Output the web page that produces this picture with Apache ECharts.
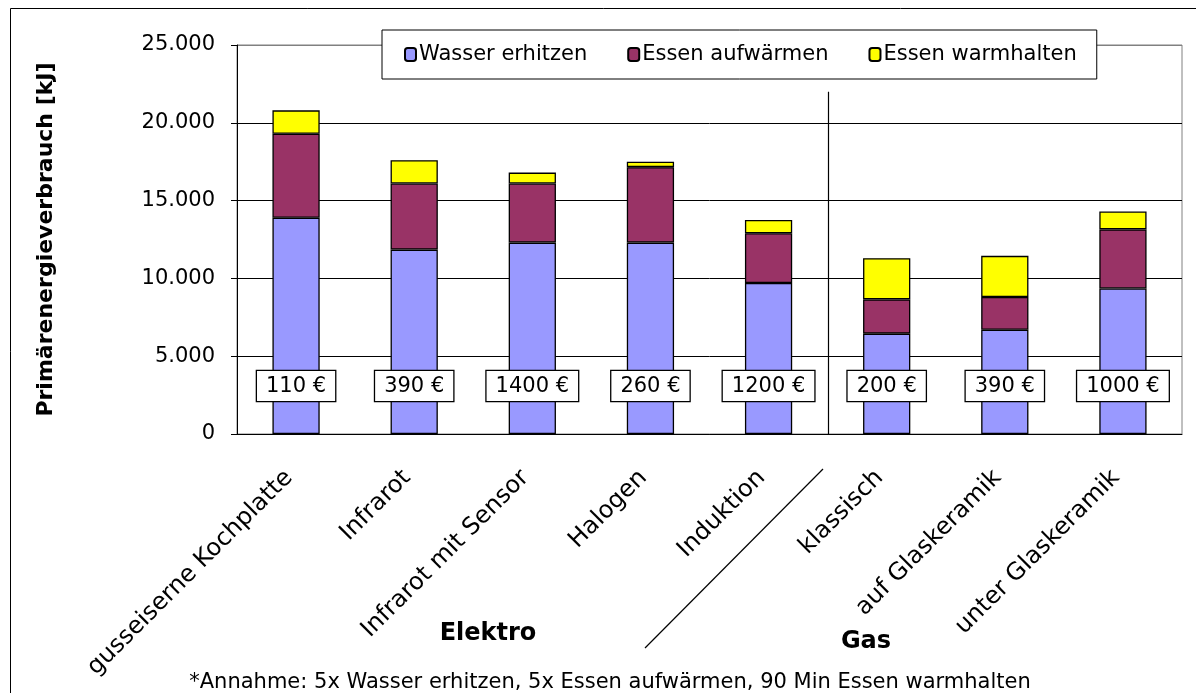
<!DOCTYPE html>
<html>
<head>
<meta charset="utf-8">
<script src="https://cdn.jsdelivr.net/npm/echarts@6/dist/echarts.min.js"></script>
<style>
html,body{margin:0;padding:0;background:#fff;}
#chart{width:1196px;height:693px;}
</style>
</head>
<body>
<div id="chart"></div>
<script>
const categories = ['gusseiserne Kochplatte', 'Infrarot', 'Infrarot mit Sensor', 'Halogen', 'Induktion', 'klassisch', 'auf Glaskeramik', 'unter Glaskeramik'];
const wasserErhitzen = [13900, 11850, 12300, 12300, 9700, 6450, 6700, 9350];
const essenAufwaermen = [5400, 4250, 3800, 4850, 3200, 2200, 2100, 3800];
const essenWarmhalten = [1500, 1500, 700, 350, 850, 2650, 2650, 1150];
const prices = ['110 €', '390 €', '1400 €', '260 €', '1200 €', '200 €', '390 €', '1000 €'];
const seriesNames = ['Wasser erhitzen', 'Essen aufwärmen', 'Essen warmhalten'];
const yMin = 0, yMax = 25000, yInterval = 5000;
const yAxisTitle = 'Primärenergieverbrauch [kJ]';
const groupLabels = ['Elektro', 'Gas'];
const footnote = '*Annahme: 5x Wasser erhitzen, 5x Essen aufwärmen, 90 Min Essen warmhalten';

const FONT = 'DejaVu Sans';
const colors = ['#9999FF', '#993366', '#FFFF00'];

function fmt(v) {
  return String(v).replace(/\B(?=(\d{3})+(?!\d))/g, '.');
}

const chart = echarts.init(document.getElementById('chart'), null, {renderer: 'canvas'});

const barBase = {
  type: 'bar',
  stack: 'total',
  barCategoryGap: '60%',
  animation: false
};

const option = {
  animation: false,
  backgroundColor: '#fff',
  textStyle: {fontFamily: FONT, color: '#000'},
  grid: {left: 237, right: 14, top: 45, bottom: 259, containLabel: false,
         show: true, borderColor: '#808080', borderWidth: 1, backgroundColor: 'transparent'},
  legend: {
    left: 382, top: 30,
    padding: [14, 20, 14, 22],
    itemGap: 40, itemWidth: 11, itemHeight: 13,
    borderColor: '#000', borderWidth: 1, backgroundColor: '#fff',
    textStyle: {fontFamily: FONT, fontSize: 21, color: '#000', padding: [0, 0, 0, -2]},
    data: seriesNames
  },
  xAxis: {
    type: 'category',
    data: categories,
    axisLine: {lineStyle: {color: '#000', width: 1}},
    axisTick: {show: false},
    axisLabel: {rotate: 45, margin: 33, interval: 0, fontFamily: FONT, fontSize: 24, color: '#000', padding: [0, 10, 0, 0]},
    splitLine: {show: false}
  },
  yAxis: {
    type: 'value',
    min: yMin, max: yMax, interval: yInterval,
    name: yAxisTitle,
    nameLocation: 'middle',
    nameGap: 180,
    nameTextStyle: {fontFamily: FONT, fontSize: 22, fontWeight: 'bold', color: '#000'},
    axisLine: {show: true, lineStyle: {color: '#000', width: 1}},
    axisTick: {show: true, inside: false, length: 6, lineStyle: {color: '#000'}},
    axisLabel: {formatter: fmt, fontFamily: FONT, fontSize: 21, color: '#000', margin: 22},
    splitLine: {show: true, lineStyle: {color: ['#000', '#000', '#000', '#000', '#000', '#808080'], width: 1}}
  },
  series: [
    Object.assign({}, barBase, {
      name: seriesNames[0], data: wasserErhitzen,
      itemStyle: {color: colors[0], borderColor: '#000', borderWidth: 1.3},
      label: {
        show: true, position: 'insideBottom', distance: 33,
        formatter: p => prices[p.dataIndex],
        fontFamily: FONT, fontSize: 21, color: '#000',
        backgroundColor: '#fff', borderColor: '#000', borderWidth: 1.3,
        padding: [5, 9, 4, 9]
      }
    }),
    Object.assign({}, barBase, {
      name: seriesNames[1], data: essenAufwaermen,
      itemStyle: {color: colors[1], borderColor: '#000', borderWidth: 1.3}
    }),
    Object.assign({}, barBase, {
      name: seriesNames[2], data: essenWarmhalten,
      itemStyle: {color: colors[2], borderColor: '#000', borderWidth: 1.3}
    })
  ]
};

chart.setOption(option);

// decorations positioned relative to the axes
const xDiv = (chart.convertToPixel({xAxisIndex: 0}, categories[4]) + chart.convertToPixel({xAxisIndex: 0}, categories[5])) / 2;
const yZero = chart.convertToPixel({yAxisIndex: 0}, 0);
const yTopDiv = chart.convertToPixel({yAxisIndex: 0}, 22000);

chart.setOption({
  graphic: [
    {type: 'rect', shape: {x: 10.5, y: 8.5, width: 1200, height: 700}, style: {fill: 'none', stroke: '#000', lineWidth: 1}, z: -10, silent: true},
    {type: 'line', shape: {x1: Math.round(xDiv) + 0.5, y1: yTopDiv, x2: Math.round(xDiv) + 0.5, y2: yZero}, style: {stroke: '#000', lineWidth: 1.2}, z: 10, silent: true},
    {type: 'line', shape: {x1: 645, y1: 648, x2: 823, y2: 469}, style: {stroke: '#000', lineWidth: 1.2}, silent: true},
    {type: 'text', x: 488, y: 634, style: {text: groupLabels[0], font: 'bold 24px "DejaVu Sans"', fill: '#000', align: 'center', verticalAlign: 'middle'}, silent: true},
    {type: 'text', x: 866, y: 642, style: {text: groupLabels[1], font: 'bold 24px "DejaVu Sans"', fill: '#000', align: 'center', verticalAlign: 'middle'}, silent: true},
    {type: 'text', x: 610, y: 683, style: {text: footnote, font: '21px "DejaVu Sans"', fill: '#000', align: 'center', verticalAlign: 'middle'}, silent: true}
  ]
});
</script>
</body>
</html>
